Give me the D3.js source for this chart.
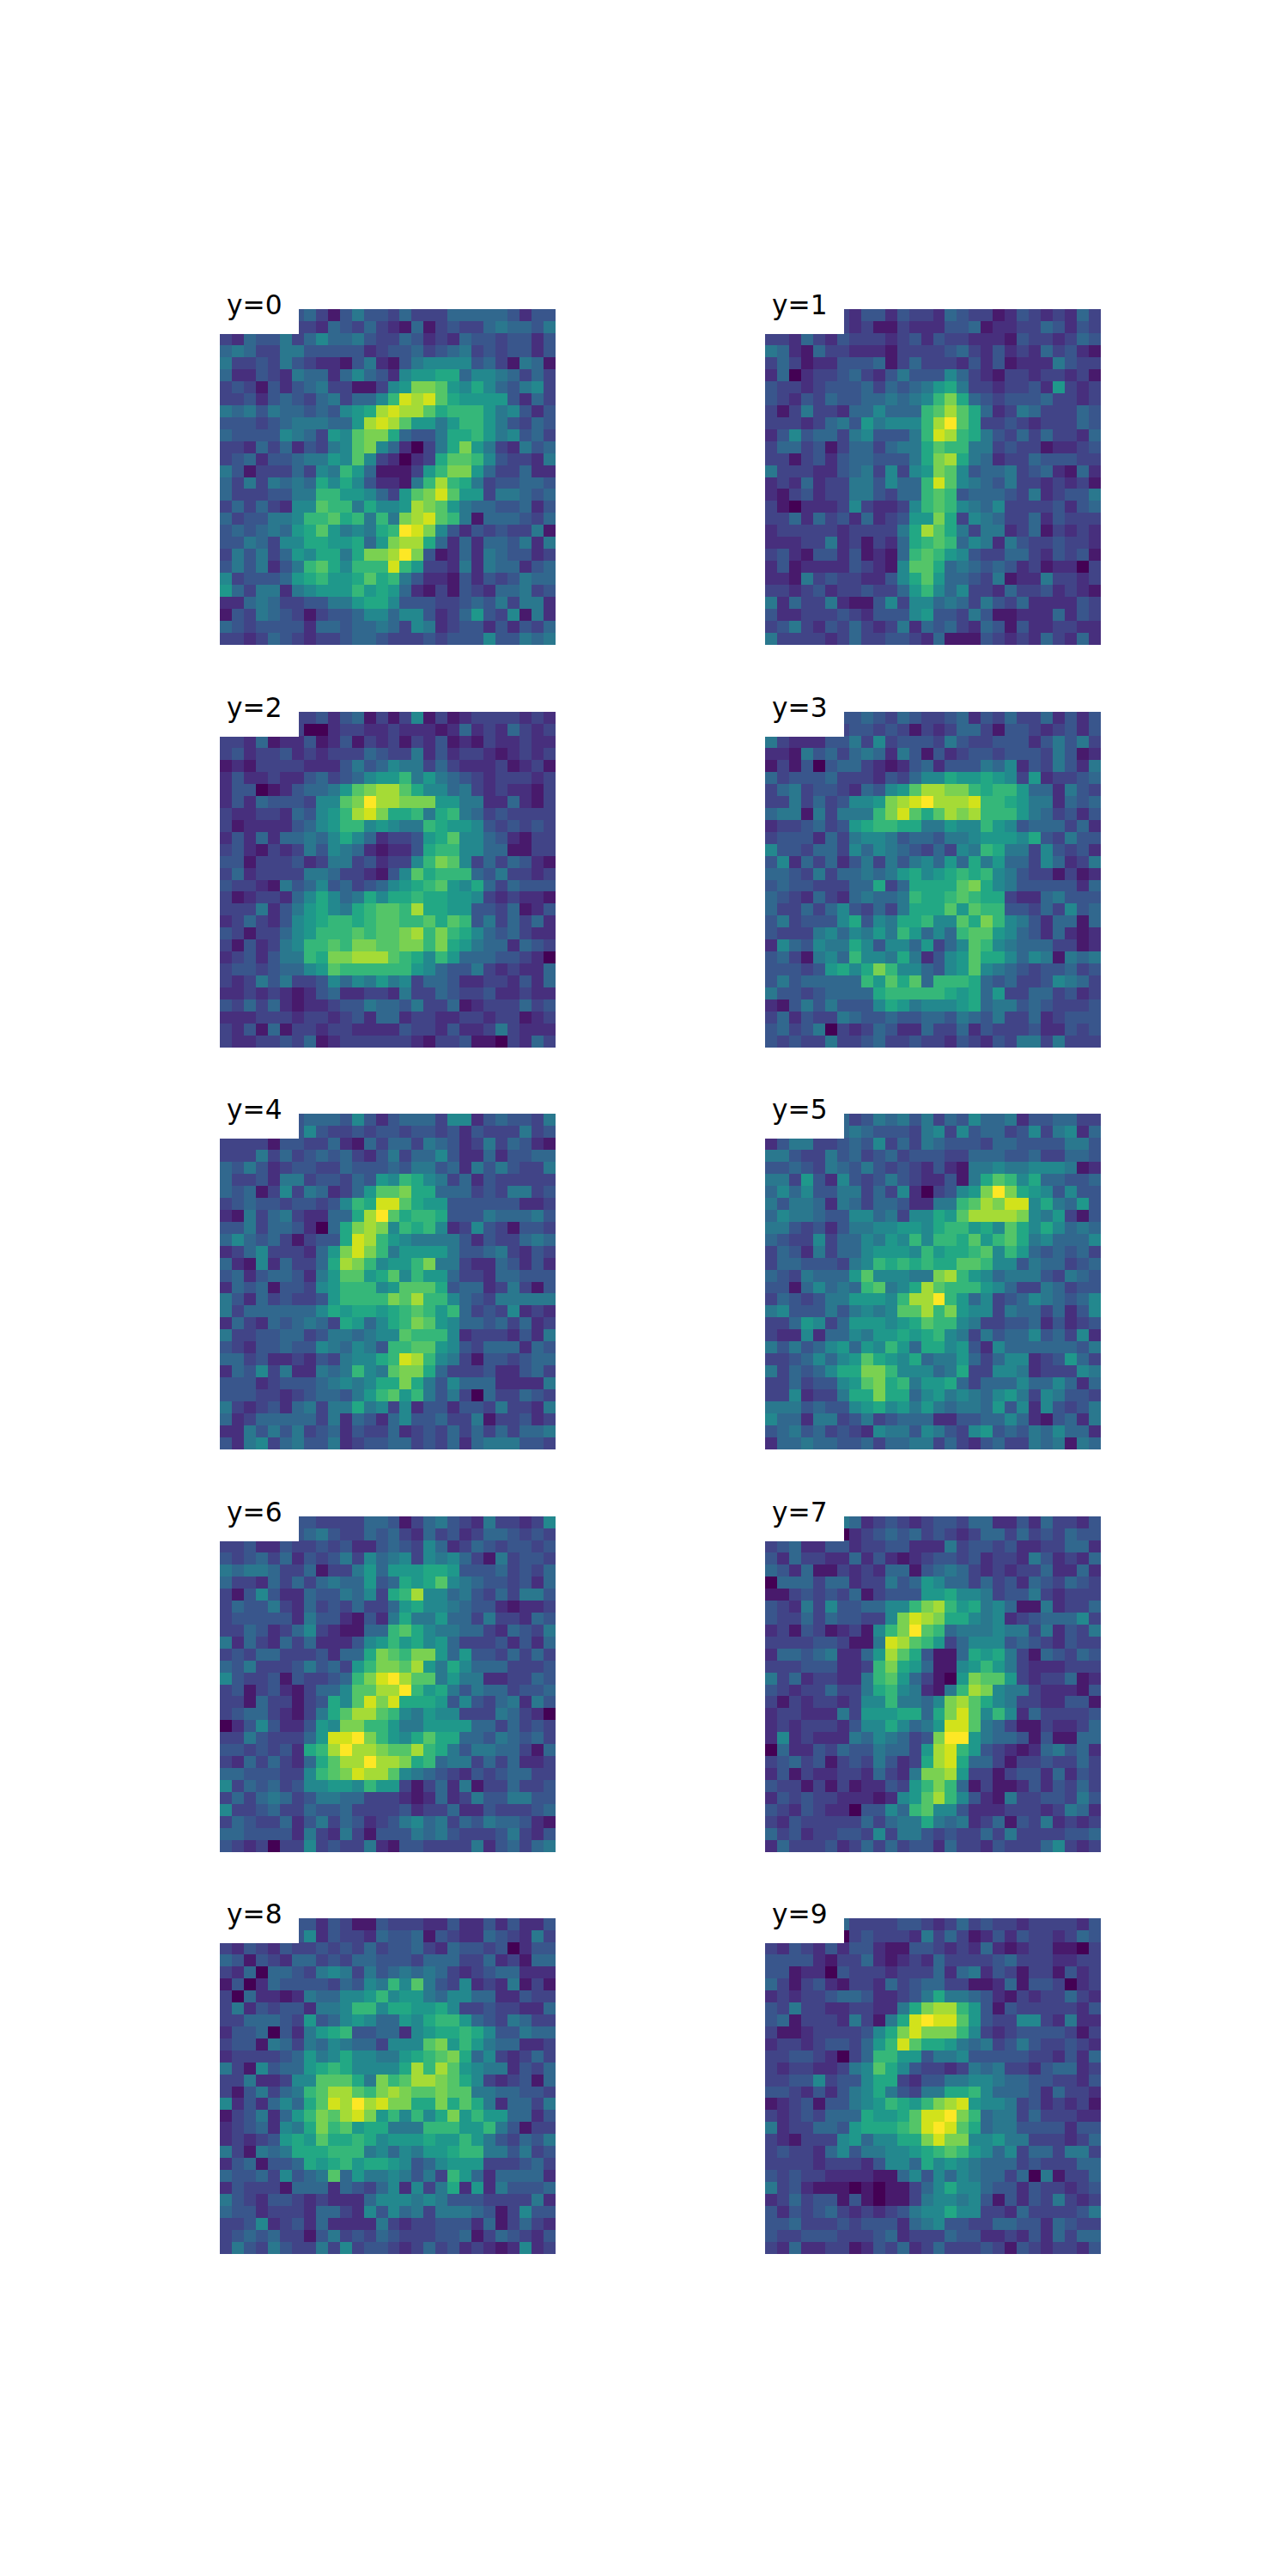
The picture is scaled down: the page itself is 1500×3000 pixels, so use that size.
<!DOCTYPE html>
<html>
<head>
<meta charset="utf-8">
<script src="https://cdn.jsdelivr.net/npm/d3@7"></script>
<style>
body { margin: 0; background: #fff; }
svg { display: block; }
</style>
</head>
<body>
<div class="container"></div>
<script>
const WIDTH = 1500;
const HEIGHT = 3000;
const SIZE = 391;
const GRID = 28;

var digit0 = ["4444444531464435333555554244","4444443325435321513433565546","3254463575564335423254434424","5653366444442344534563434424","6334364322146214677774531651","5224326552575427889957765353","3431424563311378ccb879754673","33424543563557aedeb988884253","6564655454789deddb9aaa867424","444345666558dedb8868aa864354","54444765387bcc9544699a867453","33253524367bc7520369c8632645","34524456687b7320239bba743326","6413335376a8511138acc8533522","53636565979742216ada96344554","53334466aa887538bceb88366545","35353277baa69778dcb865544524","5344667aab9a6a6cdeba61555435","45456589b86769afec7424343361","44653779988958cdd95252554626","364635879969ccdfc41252654423","4646246ab97aaaea833262655245","73444589a889b9a6422142434655","85366267888a8985213143255634","2256533446689974443345463662","1436543134457757742358437162","5434444255455653762344242435","3323543233455433343444744656"];
var digit1 = ["3333333244243325433124323253","3333333231132224451223354243","3325324333234243322214332354","6521533222133334532423253421","3531224445135333242412226433","2502334532464447532133233231","4332344453545689633233428323","43243544556567ac954344453323","3136332557555abdb95236533354","3332356486777adfb93343233354","2474553674446aeda96435353325","35534135535669baa66343312234","33134245544469cd965233544433","63332245637378cb745563452152","2325233664755aeb765463323231","2134233664355aba455543623446","3102223732237aba765733334245","33525342523488c9376533524333","2333332333369db9636623513232","2223362313259aba576264334332","342144241215aba8743355324341","241222243217bb95654542312203","2216343322479b85543612263323","3323423343358a75733253342321","6253362114737756536435222243","4223334324447844364112225243","3463243532362545325414223322","6333323533443251114323253252"];
var digit2 = ["3333333342451313713123333232","3333333002332232221252325323","3325122412413231324121322322","3423342323335433624233212323","1213333222464576635322231231","242232245345788a686543233323","24401245568bcddb977563232213","2425444377bcfddccc8866225213","3223325478adec99a69a65343333","3122224578aa78766a9887434343","2425255657975233489b77542133","342132364765212249aa77551133","44133342366342337acb73535421","3523333665332147b9aaa5463323","43321645745345789ab879535444","3123325797569799a99887323221","333624689769abbad99884435124","235324789aa9abbaab9ba4635352","43133578aaababbcdaca97545322","3142367aabaccbbccac986552543","2342466a9ccdddba97a855544320","344345578baaaaaa875446323225","3236463347576867355422332425","2232321245223326335433422322","4353521223446554633512333534","2223332332342552332233233123","3241513323322224332422363222","3223343512333333213341103253"];
var digit3 = ["4444444454354334524353352424","4444443443431323553144323424","6322244637344436433444246463","2216453565264142344344436412","1314045532124524446572436426","5344453332435779889873823345","356344325478bddcca9aa8552643","3363534778cdefdddeaa98662545","566163666aceb9bdcdaaa8653424","233453489aa9966877a874555352","3444253677645546678887943644","744355375765435376a966374342","4725352463646758596855375236","5543635565689789a9a764331312","4544333559359999bc9764444425","543253256556a99aba9932256444","533535743536999b8baa44353745","4634447947699a77b9ca76425515","43336757686a8575abb875425212","27547669747758357ba765553312","4531675a776962478b9975761656","444348979ca775478b7654344534","46455555a8b9b5aaa95453347653","6443455559aaaaa9895833553423","2146464447986777895664543334","3524336544544554654633523444","4534603235422533524333422434","4343363345334332432436636333"];
var digit4 = ["4444444555474245553772454436","4444444743343443443424333634","3333144335215355365423635421","3336353454532463557422524455","5464234433544454664526464336","533426634435487a976352433333","5451373652358bbc995553436634","34544344347a9eeb988444444223","216356322559dfb9aa9444655564","44635542059cdc7a9a7237431443","57545313449eda87666642433565","2357333258ceca68888644563243","5217253359dca788ac6632254242","4524554268bb89b7a88533255444","2545144378aaa78bbb9455236314","6425343348aaaacbdaa754366666","635555557989989aba8a53437232","253254565398579acb8755453523","633445534665677baaa723332426","43244544765764aabb8743555254","55342232436779aeda7631443455","25473622656a76bcc95333422453","444234445676799c964755522226","4443323455468ab8a64630533543","6323425636696737244244363326","5235555536254257445336133423","2264646345243352343535353556","4267356446234455343525666443"];
var digit5 = ["5555555346564635475562445533","5555555654443673745534736725","2466334547353654443554444664","6643364534534443355544533554","4454365464343242166766777612","6638427434643224169ba7955445","575744663537203478cfc9874744","6466526535542266abdcee796584","5766544775637798bddddc768314","664342466778879aa897b9797565","543373557687a7aa9b8ab9675557","3542635578887a899ab7a8545453","355444367a9a9a99bba774655345","54365558b77766cda87566643654","44157565ab679dbaaa8753365344","35434668887addfa857345765457","67444646767bbdac877365535247","3358735888789baa763344524234","32272557688989a7636455745372","6464578587a85997842755555546","33457578b9879566853577234853","63545799cca77756933776233376","33534478bc9a6889535557557525","337233699c995786765786376443","6664544789786865665847274346","7552663463455522445575214526","4564534327664764378454657552","2556554453556635324533656165"];
var digit6 = ["4444444433335541356432633237","4444444564335453253423554343","3342243343422454375235434434","4345352434637567376753163443","6566533513368588899844453435","533253535655845989b765443425","314742254465739ad77564353664","3544632534353358977654421223","3444442644214269668553633254","33542357321155ab976655325436","62532535222478a8978533342425","3435533342559cbacc8584435353","546333464538accbd86975553334","74334143345acefdbb6866223354","34134213557bbddfa89646553445","33153313497bece9998474356264","3455321369bddba7687733365320","0247422487ccaa86688885535343","336433358eefca879b9955465453","44343429adfddcbbda9646655315","325353259bddfddc9a5663535223","55444337abceddb7654324345533","735453477887a883135261335334","3535653466553332125236446644","7334533544533334233522433345","3543352463542346756354655421","5544442632631444656433346324","4323033734336214433336245356"];
var digit7 = ["5555556523432344355224253324","3333330234545343235535343544","3452244233442226344342233552","4253322524212344342332642325","5425113232551456532323352252","0555355233645875535342543543","1134343513444889776344632333","432637445577acda896751162335","43353544337cedc9976723455573","2314312317acfba5666766362436","3333443116edba83577745432433","2554562258db9411598963154354","333444223ac9851178a863222333","635233226ab853108cbb83233512","4323353369a76216adc766322214","3132332377a6657cdb9763322441","233222638889959ceb7a72533334","232333247797568eeb6531132235","27232226576534cff86554141155","05224354465538dea84321256452","34534134364239de955313343353","2413223325326ccd833134425243","4331313122438aca513112424353","2434332221278bda742163344364","432432204475ab77422233323652","3243333353566965623514362323","5342334437366434335363333445","2533342353534425332433357323"];
var digit8 = ["4444444424311433322422424224","4444444724332544514322543263","3243243343435344532544340244","5414325534355444355533523155","3250554367636456565323455222","14025444435476a7b64372326131","3052212655778a78865775522433","36243442667aa799889733433225","335554384578755879aa85436533","2445042689a445527899a9744655","34416536576553777bc8a8655223","23333458679776689abc95732353","631745589a977779dadb87662435","33622377bbb96cabddcb97323415","3146356abddbacdcbbcbb6655443","72425759bedfdecc99c9b9625536","1346258acbdec8a7a79c8a885524","23452769cab899666aaa88a64133","23234898b99a97888988a8643546","631656999aaa67576889aa664634","2451445989a89987457888333453","544537456b586676463a85255552","2433315552543572736928264445","6432443232225777676444333362","5442333255327475636665413744","3347234252222632334442513532","3454533146343543334451354324","3643643363734432353423212723"];
var digit9 = ["3333335333344323534332333324","3333330343332635312424332354","3243242442114432325212331103","4444213352123253333453332233","4412204333233352562431331423","5313421332534553311251443023","2323345542234696654213233532","4363322332269cdda84143333324","451333263169efeeb84337732622","31123333479ceccca73234444313","2332344358aeb998656346433432","334432035aa88466744444332425","323322367b974332365633245523","3344734479932446677655443324","44324246796436699a7555425332","1234144678a98acde87763423231","323435559889beefca5663533322","62335548999abefeb95664444244","3213337857799cecc77866333235","34332574667789aba87573553663","3333233324775978765553433355","4343322221157475765535061335","6342111010113579775442433234","2353441410113677674142436323","4243453232346779773325333346","4453334344425674433554425433","4334443334523335442232425355","3252233124352353334314323324"];

var digits = [digit0, digit1, digit2, digit3, digit4, digit5, digit6, digit7, digit8, digit9];
var labels = ["y=0", "y=1", "y=2", "y=3", "y=4", "y=5", "y=6", "y=7", "y=8", "y=9"];

var panelLeft = [256, 891];
var panelTop = [360, 829, 1297, 1766, 2234];

var cellScale = d3.scaleBand()
    .domain(d3.range(GRID))
    .range([0, SIZE]);

var colorScale = d3.scaleSequential(d3.interpolateViridis)
    .domain([0, 15]);

var translate = function (x, y) {
    return "translate(" + x + "," + y + ")";
};

var toCells = function (rows) {
    var cells = [];
    rows.forEach(function (row, r) {
        row.split("").forEach(function (c, i) {
            cells.push({row: r, col: i, value: parseInt(c, 16)});
        });
    });
    return cells;
};

var drawPanel = function (svg, rows, label, index) {
    var g = svg.append("g")
        .attr("transform", translate(panelLeft[index % 2], panelTop[Math.floor(index / 2)]));

    g.selectAll("rect.cell").data(toCells(rows))
        .enter().append("rect")
        .attr("class", "cell")
        .attr("x", function (d) { return cellScale(d.col); })
        .attr("y", function (d) { return cellScale(d.row); })
        .attr("width", cellScale.bandwidth())
        .attr("height", cellScale.bandwidth())
        .attr("fill", function (d) { return colorScale(d.value); })
        .attr("shape-rendering", "crispEdges");

    // the title sits on a white box that hides the top left cells
    g.append("rect")
        .attr("x", -2)
        .attr("y", -2)
        .attr("width", 94)
        .attr("height", 31)
        .attr("fill", "#fff");

    g.append("text")
        .attr("x", 8)
        .attr("y", 6)
        .attr("font-family", "DejaVu Sans")
        .attr("font-size", 31.25)
        .attr("fill", "#000")
        .text(label);
};

var svg = d3.select(".container").append("svg")
    .attr("width", WIDTH)
    .attr("height", HEIGHT);

digits.forEach(function (rows, i) {
    drawPanel(svg, rows, labels[i], i);
});
</script>
</body>
</html>
